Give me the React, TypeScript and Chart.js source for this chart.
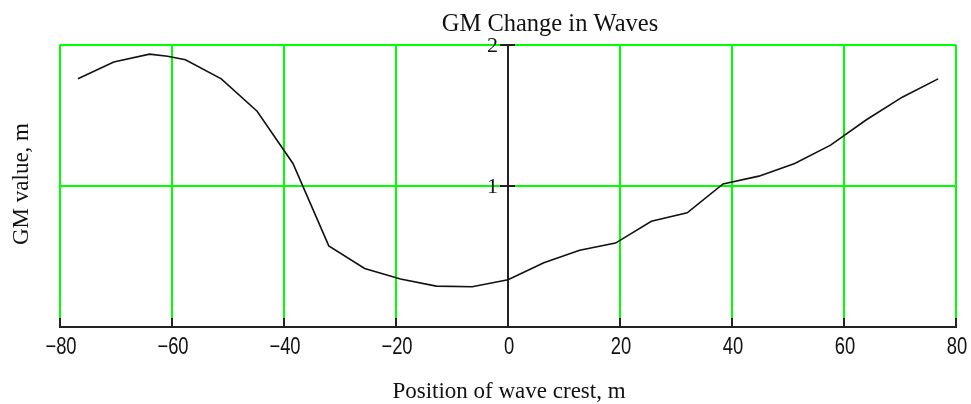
import React, { useEffect, useRef } from "react";
import { Chart, registerables } from "chart.js";

Chart.register(...registerables);

// Position of wave crest, m
const crestPositions = [
  -76.8, -70.4, -64, -60.8, -57.6, -51.2, -44.8, -38.4, -32, -25.6, -19.2, -12.8, -6.4,
  0, 6.4, 12.8, 19.2, 25.6, 32, 38.4, 44.8, 51.2, 57.6, 64, 70.4, 76.8,
];
// GM value, m
const gmValues = [
  1.76, 1.88, 1.935, 1.92, 1.895, 1.76, 1.53, 1.16, 0.575, 0.415, 0.34, 0.29, 0.285,
  0.335, 0.455, 0.545, 0.595, 0.75, 0.81, 1.015, 1.07, 1.16, 1.29, 1.47, 1.63, 1.76,
];

const xTicks = [-80, -60, -40, -20, 0, 20, 40, 60, 80];
const yTicks = [1, 2];
const xMin = -80;
const xMax = 80;
const yMin = 0;
const yMax = 2;

const titleText = "GM Change in Waves";
const xTitle = "Position of wave crest, m";
const yTitle = "GM value, m";

const GREEN = "#00ff00";
const AXIS = "#222222";
const SERIF = "'Liberation Serif', 'Times New Roman', serif";
const SANS = "'Liberation Sans', Arial, sans-serif";

const fmt = (v: number) => (v < 0 ? "\u2212" + Math.abs(v) : String(v));

const axesPlugin = {
  id: "mathcadAxes",
  beforeDatasetsDraw(chart: any) {
    const { ctx, chartArea, scales } = chart;
    const xs = scales.x;
    const ys = scales.y;
    const x0 = xs.getPixelForValue(0);
    const y0 = ys.getPixelForValue(0);
    ctx.save();
    ctx.strokeStyle = AXIS;
    ctx.lineWidth = 2;
    ctx.beginPath();
    ctx.moveTo(chartArea.left - 1, y0);
    ctx.lineTo(chartArea.right + 1, y0);
    ctx.stroke();
    ctx.beginPath();
    ctx.moveTo(x0, chartArea.top);
    ctx.lineTo(x0, y0);
    ctx.stroke();
    xTicks.forEach((v) => {
      const px = xs.getPixelForValue(v);
      ctx.beginPath();
      ctx.moveTo(px, y0);
      ctx.lineTo(px, y0 - 9);
      ctx.stroke();
    });
    yTicks.forEach((v) => {
      const py = ys.getPixelForValue(v);
      ctx.beginPath();
      ctx.moveTo(x0 - 8, py);
      ctx.lineTo(x0 + 7, py);
      ctx.stroke();
    });
    ctx.restore();
  },
  afterDraw(chart: any) {
    const { ctx, chartArea, scales } = chart;
    const xs = scales.x;
    const ys = scales.y;
    const x0 = xs.getPixelForValue(0);
    const y0 = ys.getPixelForValue(0);
    ctx.save();
    ctx.fillStyle = "#111111";
    ctx.font = `23px ${SANS}`;
    ctx.textAlign = "center";
    ctx.textBaseline = "alphabetic";
    xTicks.forEach((v) => {
      ctx.save();
      ctx.translate(xs.getPixelForValue(v) + 1, y0 + 27);
      ctx.scale(0.8, 1);
      ctx.fillText(fmt(v), 0, 0);
      ctx.restore();
    });
    ctx.font = `22px ${SERIF}`;
    ctx.textAlign = "right";
    ctx.textBaseline = "middle";
    yTicks.forEach((v) => {
      ctx.fillText(fmt(v), x0 - 10, ys.getPixelForValue(v) + 1);
    });
    ctx.font = `24.5px ${SERIF}`;
    ctx.textAlign = "center";
    ctx.textBaseline = "alphabetic";
    const cx = (chartArea.left + chartArea.right) / 2;
    ctx.fillText(titleText, cx + 42, chartArea.top - 14);
    ctx.font = `23px ${SERIF}`;
    ctx.fillText(xTitle, cx + 1, y0 + 71);
    ctx.translate(28, (chartArea.top + y0) / 2 - 2);
    ctx.rotate(-Math.PI / 2);
    ctx.fillText(yTitle, 0, 0);
    ctx.restore();
  },
};

export default function App() {
  const canvasRef = useRef<HTMLCanvasElement | null>(null);

  useEffect(() => {
    if (!canvasRef.current) return;
    const points = crestPositions.map((x, i) => ({ x, y: gmValues[i] }));
    const chart = new Chart(canvasRef.current, {
      type: "scatter",
      data: {
        datasets: [
          {
            label: yTitle,
            data: points,
            showLine: true,
            borderColor: "#111111",
            borderWidth: 1.6,
            pointRadius: 0,
            tension: 0,
          },
        ],
      },
      options: {
        animation: false,
        responsive: false,
        maintainAspectRatio: false,
        layout: { padding: { left: 60, right: 15, top: 45, bottom: 77 } },
        plugins: {
          legend: { display: false },
          title: { display: false },
          tooltip: { enabled: false },
        },
        scales: {
          x: {
            type: "linear",
            min: xMin,
            max: xMax,
            afterBuildTicks: (scale: any) => {
              scale.ticks = xTicks.map((v) => ({ value: v }));
            },
            afterFit: (scale: any) => {
              scale.height = 0;
            },
            ticks: { display: false },
            grid: { color: GREEN, lineWidth: 2, drawTicks: false },
            border: { display: false },
          },
          y: {
            type: "linear",
            min: yMin,
            max: yMax,
            afterBuildTicks: (scale: any) => {
              scale.ticks = [0, ...yTicks].map((v) => ({ value: v }));
            },
            afterFit: (scale: any) => {
              scale.width = 0;
            },
            ticks: { display: false },
            grid: { color: GREEN, lineWidth: 2, drawTicks: false },
            border: { display: false },
          },
        },
      },
      plugins: [axesPlugin],
    } as any);
    return () => chart.destroy();
  }, []);

  return (
    <div style={{ position: "absolute", left: 0, top: 0, width: 971, height: 404, background: "#ffffff" }}>
      <canvas ref={canvasRef} width={971} height={404} style={{ display: "block", width: 971, height: 404 }} />
    </div>
  );
}
